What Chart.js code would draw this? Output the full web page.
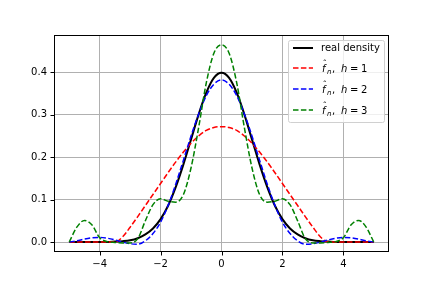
<!DOCTYPE html>
<html>
<head>
<meta charset="utf-8">
<script src="https://cdn.jsdelivr.net/npm/chart.js@4.4.1/dist/chart.umd.min.js"></script>
<style>
  html, body { margin: 0; padding: 0; background: #fff; }
  #wrap { width: 432px; height: 288px; }
</style>
</head>
<body>
<div id="wrap"><canvas id="myChart"></canvas></div>
<script>
// x positions of the sampled curves
const xs = [-5, -4.75, -4.5, -4.25, -4, -3.75, -3.5, -3.25, -3, -2.75, -2.5, -2.25, -2, -1.75, -1.5, -1.25, -1, -0.75, -0.5, -0.25,
  0, 0.25, 0.5, 0.75, 1, 1.25, 1.5, 1.75, 2, 2.25, 2.5, 2.75, 3, 3.25, 3.5, 3.75, 4, 4.25, 4.5, 4.75, 5];

// real density
const realDensity = [0, 0, 0, 0, 0.000, 0.000, 0.001, 0.002, 0.004, 0.009, 0.018, 0.032, 0.054, 0.086, 0.130, 0.183, 0.242, 0.301, 0.352, 0.387,
  0.399, 0.387, 0.352, 0.301, 0.242, 0.183, 0.130, 0.086, 0.054, 0.032, 0.018, 0.009, 0.004, 0.002, 0.001, 0.000, 0.000, 0, 0, 0, 0];

// estimate h = 1
const fnH1 = [0, 0, 0, 0, 0, 0, 0, 0.012, 0.035, 0.060, 0.086, 0.112, 0.138, 0.164, 0.189, 0.212, 0.233, 0.250, 0.263, 0.270,
  0.272, 0.270, 0.263, 0.250, 0.233, 0.212, 0.189, 0.164, 0.138, 0.112, 0.086, 0.060, 0.035, 0.012, 0, 0, 0, 0, 0, 0, 0];

// estimate h = 2
const fnH2 = [0, 0.003, 0.007, 0.010, 0.011, 0.009, 0.005, 0.000, -0.004, -0.005, 0.003, 0.020, 0.047, 0.087, 0.137, 0.193, 0.250, 0.302, 0.345, 0.372,
  0.382, 0.372, 0.345, 0.302, 0.250, 0.193, 0.137, 0.087, 0.047, 0.020, 0.003, -0.005, -0.004, 0.000, 0.005, 0.009, 0.011, 0.010, 0.007, 0.003, 0];

// estimate h = 3
const fnH3 = [0, 0.035, 0.051, 0.040, 0.010, 0.001, -0.001, -0.002, -0.002, 0.008, 0.050, 0.088, 0.102, 0.096, 0.094, 0.112, 0.175, 0.270, 0.375, 0.445,
  0.465, 0.445, 0.375, 0.270, 0.175, 0.112, 0.094, 0.096, 0.102, 0.088, 0.050, 0.008, -0.002, -0.002, -0.001, 0.001, 0.010, 0.040, 0.051, 0.035, 0];

const xTicks = [-4, -2, 0, 2, 4];
const yTicks = [0, 0.1, 0.2, 0.3, 0.4];

const FONT = "'DejaVu Sans', sans-serif";

function pts(ys) {
  return xs.map((x, i) => ({ x: x, y: ys[i] }));
}

// frame, tick marks and a matplotlib style legend
const framePlugin = {
  id: 'frame',
  afterDatasetsDraw(chart) {
    const ctx = chart.ctx;
    const a = chart.chartArea;
    const sx = chart.scales.x, sy = chart.scales.y;
    ctx.save();
    ctx.strokeStyle = '#000';
    ctx.lineWidth = 1;
    ctx.strokeRect(Math.round(a.left) + 0.5, Math.round(a.top) + 0.5,
      Math.round(a.right - a.left) - 1, Math.round(a.bottom - a.top) - 1);
    xTicks.forEach(v => {
      const px = Math.round(sx.getPixelForValue(v)) + 0.5;
      ctx.beginPath();
      ctx.moveTo(px, a.bottom);
      ctx.lineTo(px, a.bottom + 3.5);
      ctx.stroke();
    });
    yTicks.forEach(v => {
      const py = Math.round(sy.getPixelForValue(v)) + 0.5;
      ctx.beginPath();
      ctx.moveTo(a.left, py);
      ctx.lineTo(a.left - 3.5, py);
      ctx.stroke();
    });

    // legend
    const bx = 288, by = 40, bw = 96, bh = 82;
    ctx.fillStyle = 'rgba(255,255,255,0.8)';
    ctx.strokeStyle = '#d0d0d0';
    ctx.beginPath();
    ctx.roundRect(bx + 0.5, by + 0.5, bw, bh, 2);
    ctx.fill();
    ctx.stroke();

    const rows = [48, 68, 89, 110];
    chart.data.datasets.forEach((ds, i) => {
      const y = rows[i];
      ctx.save();
      ctx.strokeStyle = ds.borderColor;
      ctx.lineWidth = ds.borderWidth;
      ctx.setLineDash(ds.borderDash || []);
      ctx.beginPath();
      ctx.moveTo(293, y);
      ctx.lineTo(313, y);
      ctx.stroke();
      ctx.restore();

      ctx.fillStyle = '#000';
      ctx.textBaseline = 'middle';
      ctx.textAlign = 'left';
      if (i === 0) {
        ctx.font = '10px ' + FONT;
        ctx.fillText(ds.label, 321, y);
      } else {
        ctx.font = 'italic 10px ' + FONT;
        ctx.fillText('f', 322, y + 1);
        ctx.font = '9px ' + FONT;
        ctx.fillText('\u02C6', 322.5, y - 3);
        ctx.font = 'italic 7px ' + FONT;
        ctx.fillText('n', 327, y + 4);
        ctx.font = '10px ' + FONT;
        ctx.fillText(',', 332, y + 1);
        ctx.font = 'italic 10px ' + FONT;
        ctx.fillText('h', 341, y + 1);
        ctx.font = '10px ' + FONT;
        ctx.fillText('=', 350, y + 1);
        ctx.fillText(String(ds.hValue), 361, y + 1);
      }
    });
    ctx.restore();
  }
};

const ctx = document.getElementById('myChart').getContext('2d');

const myChart = new Chart(ctx, {
  type: 'line',
  data: {
    datasets: [
      { label: 'real density', data: pts(realDensity), borderColor: '#000000', borderWidth: 2, order: 3 },
      { label: 'h1', hValue: 1, data: pts(fnH1), borderColor: '#ff0000', borderWidth: 1.5, borderDash: [5.5, 2.4], order: 2 },
      { label: 'h2', hValue: 2, data: pts(fnH2), borderColor: '#0000ff', borderWidth: 1.5, borderDash: [5.5, 2.4], order: 1 },
      { label: 'h3', hValue: 3, data: pts(fnH3), borderColor: '#008000', borderWidth: 1.5, borderDash: [5.5, 2.4], order: 0 }
    ]
  },
  options: {
    responsive: true,
    maintainAspectRatio: false,
    animation: false,
    devicePixelRatio: 1,
    layout: { padding: { top: 35, right: 43, left: 0, bottom: 0 } },
    elements: {
      point: { radius: 0 },
      line: { cubicInterpolationMode: 'monotone', fill: false }
    },
    plugins: {
      legend: { display: false },
      tooltip: { enabled: false }
    },
    scales: {
      x: {
        type: 'linear',
        min: -5.5,
        max: 5.5,
        afterBuildTicks: s => { s.ticks = xTicks.map(v => ({ value: v })); },
        afterFit: s => { s.height = 36; },
        grid: { color: '#b0b0b0', lineWidth: 1, drawTicks: false },
        border: { display: false },
        ticks: {
          padding: 6,
          color: '#000',
          font: { family: FONT, size: 10 },
          maxRotation: 0,
          callback: v => (v < 0 ? '\u2212' + Math.abs(v) : String(v))
        }
      },
      y: {
        min: -0.0235,
        max: 0.488,
        afterBuildTicks: s => { s.ticks = yTicks.map(v => ({ value: v })); },
        afterFit: s => { s.width = 54; },
        grid: { color: '#b0b0b0', lineWidth: 1, drawTicks: false },
        border: { display: false },
        ticks: {
          padding: 7,
          color: '#000',
          font: { family: FONT, size: 10 },
          callback: v => v.toFixed(1)
        }
      }
    }
  },
  plugins: [framePlugin]
});
</script>
</body>
</html>
